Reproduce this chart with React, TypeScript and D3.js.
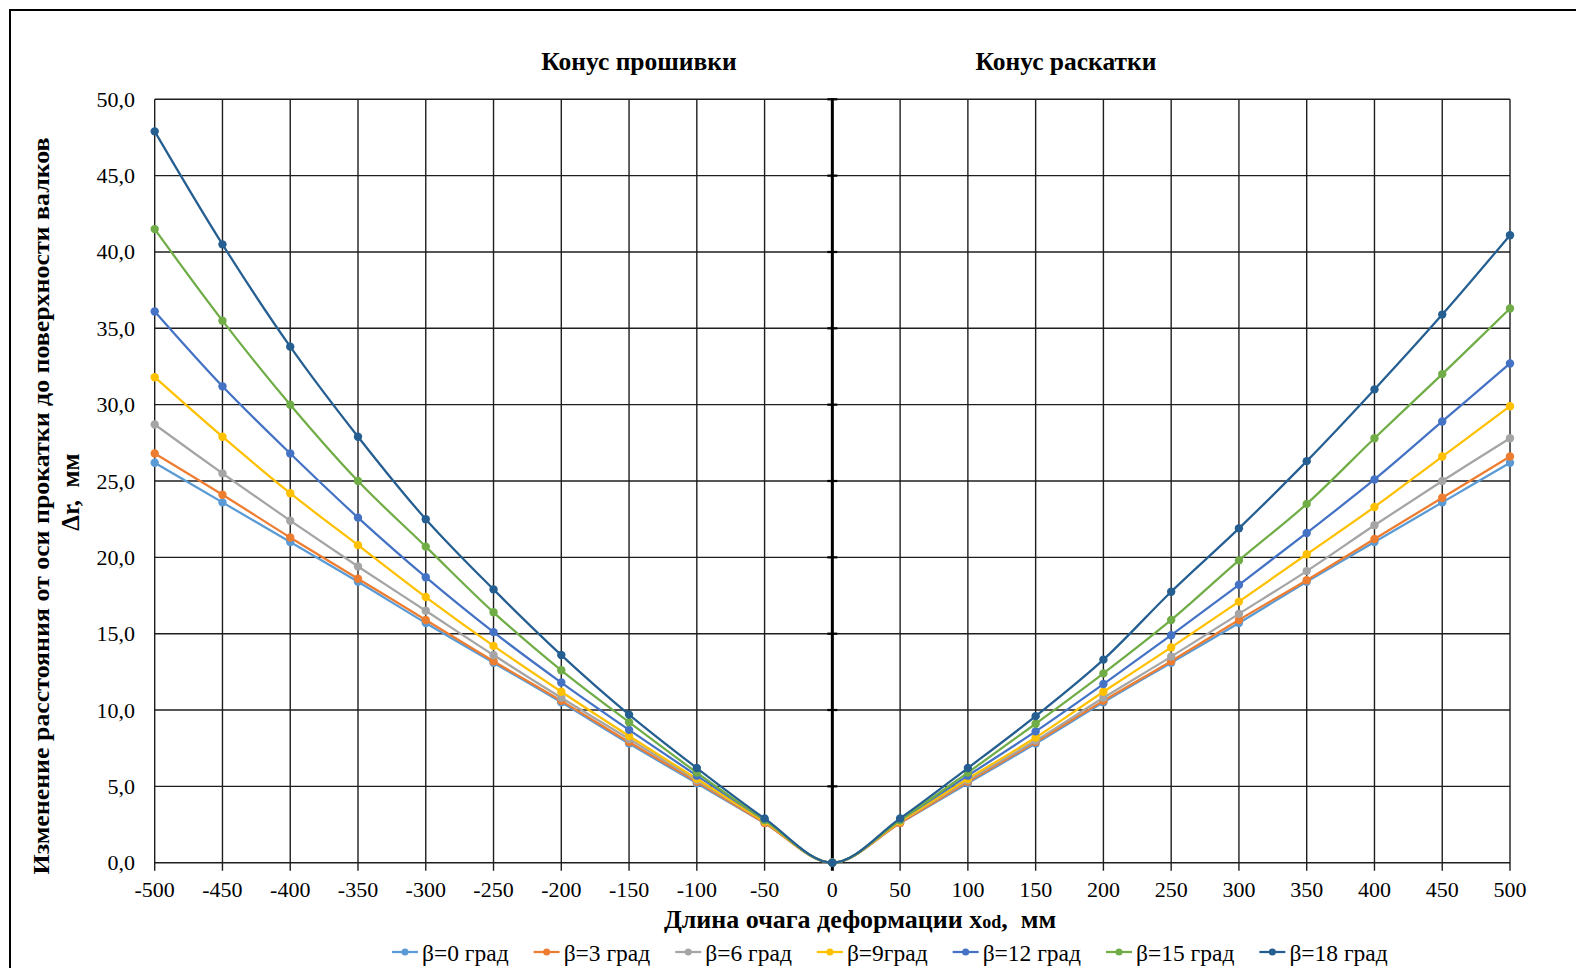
import React, { useEffect, useRef } from "react";
import * as d3 from "d3";

const WIDTH = 1576;
const HEIGHT = 968;

// x positions along the deformation zone, mm
const xValues = [-500, -450, -400, -350, -300, -250, -200, -150, -100, -50, 0, 50, 100, 150, 200, 250, 300, 350, 400, 450, 500];
const xTicks = [-500, -450, -400, -350, -300, -250, -200, -150, -100, -50, 0, 50, 100, 150, 200, 250, 300, 350, 400, 450, 500];
const yTicks = [0, 5, 10, 15, 20, 25, 30, 35, 40, 45, 50];

// Δr, mm for each roll feed angle β
const beta0 = [26.2, 23.6, 21.0, 18.4, 15.7, 13.1, 10.5, 7.8, 5.2, 2.6, 0, 2.6, 5.2, 7.8, 10.5, 13.1, 15.7, 18.4, 21.0, 23.6, 26.2];
const beta3 = [26.8, 24.1, 21.3, 18.6, 15.9, 13.2, 10.6, 7.9, 5.3, 2.6, 0, 2.6, 5.3, 7.9, 10.6, 13.2, 15.9, 18.5, 21.2, 23.9, 26.6];
const beta6 = [28.7, 25.5, 22.4, 19.4, 16.5, 13.6, 10.8, 8.1, 5.4, 2.7, 0, 2.7, 5.4, 8.0, 10.8, 13.5, 16.3, 19.1, 22.1, 25.0, 27.8];
const beta9 = [31.8, 27.9, 24.2, 20.8, 17.4, 14.2, 11.2, 8.3, 5.5, 2.7, 0, 2.7, 5.5, 8.2, 11.2, 14.1, 17.1, 20.2, 23.3, 26.6, 29.9];
const beta12 = [36.1, 31.2, 26.8, 22.6, 18.7, 15.1, 11.8, 8.7, 5.7, 2.8, 0, 2.8, 5.7, 8.6, 11.7, 14.9, 18.2, 21.6, 25.1, 28.9, 32.7];
const beta15 = [41.5, 35.5, 30.0, 25.0, 20.7, 16.4, 12.6, 9.2, 5.9, 2.8, 0, 2.8, 5.9, 9.1, 12.4, 15.9, 19.8, 23.5, 27.8, 32.0, 36.3];
const beta18 = [47.9, 40.5, 33.8, 27.9, 22.5, 17.9, 13.6, 9.7, 6.2, 2.9, 0, 2.9, 6.2, 9.6, 13.3, 17.75, 21.9, 26.3, 31.0, 35.9, 41.1];

const seriesNames = ["β=0 град", "β=3 град", "β=6 град", "β=9град", "β=12 град", "β=15 град", "β=18 град"];
const seriesColors = ["#5B9BD5", "#ED7D31", "#A5A5A5", "#FFC000", "#4472C4", "#70AD47", "#255E91"];
const seriesValues = [beta0, beta3, beta6, beta9, beta12, beta15, beta18];

const FONT = "'Liberation Serif', 'Times New Roman', serif";

export default function App() {
  const ref = useRef<SVGSVGElement | null>(null);

  useEffect(() => {
    const svg = d3.select(ref.current);
    svg.selectAll("*").remove();

    const left = 154.7;
    const right = 1510;
    const top = 99.3;
    const bottom = 862.7;

    const x = d3.scaleLinear().domain([-500, 500]).range([left, right]);
    const y = d3.scaleLinear().domain([0, 50]).range([bottom, top]);
    const fmt = (v: number) => d3.format(".1f")(v).replace(".", ",");

    // outer frame
    svg
      .append("rect")
      .attr("x", 10)
      .attr("y", 10)
      .attr("width", 1700)
      .attr("height", 1100)
      .attr("fill", "#fff")
      .attr("stroke", "#000")
      .attr("stroke-width", 2);

    const grid = svg.append("g").attr("stroke", "#1e1e1e").attr("stroke-width", 1.4);
    grid
      .selectAll("line.h")
      .data(yTicks)
      .join("line")
      .attr("class", "h")
      .attr("x1", left)
      .attr("x2", right)
      .attr("y1", (d) => y(d))
      .attr("y2", (d) => y(d));
    grid
      .selectAll("line.v")
      .data(xTicks.filter((d) => d !== 0))
      .join("line")
      .attr("class", "v")
      .attr("x1", (d) => x(d))
      .attr("x2", (d) => x(d))
      .attr("y1", top)
      .attr("y2", bottom + 8);

    // central axis at x = 0
    svg
      .append("line")
      .attr("x1", x(0))
      .attr("x2", x(0))
      .attr("y1", top - 1)
      .attr("y2", bottom + 8)
      .attr("stroke", "#000")
      .attr("stroke-width", 3);
    svg
      .append("g")
      .selectAll("line")
      .data(yTicks)
      .join("line")
      .attr("x1", x(0) - 5)
      .attr("x2", x(0) + 5)
      .attr("y1", (d) => y(d))
      .attr("y2", (d) => y(d))
      .attr("stroke", "#000")
      .attr("stroke-width", 2.2);

    // tick labels
    svg
      .append("g")
      .selectAll("text")
      .data(yTicks)
      .join("text")
      .attr("x", 135)
      .attr("y", (d) => y(d) + 7.5)
      .attr("text-anchor", "end")
      .attr("font-family", FONT)
      .attr("font-size", 22)
      .attr("fill", "#000")
      .text((d) => fmt(d));
    svg
      .append("g")
      .selectAll("text")
      .data(xTicks)
      .join("text")
      .attr("x", (d) => x(d))
      .attr("y", 897)
      .attr("text-anchor", "middle")
      .attr("font-family", FONT)
      .attr("font-size", 22)
      .attr("fill", "#000")
      .text((d) => String(d));

    // series
    const line = d3
      .line<number>()
      .x((_, i) => x(xValues[i]))
      .y((d) => y(d))
      .curve(d3.curveCatmullRom.alpha(0.5));

    seriesValues.forEach((vals, si) => {
      const g = svg.append("g");
      g.append("path")
        .attr("d", line(vals) ?? "")
        .attr("fill", "none")
        .attr("stroke", seriesColors[si])
        .attr("stroke-width", 2.25);
      g.selectAll("circle")
        .data(vals)
        .join("circle")
        .attr("cx", (_, i) => x(xValues[i]))
        .attr("cy", (d) => y(d))
        .attr("r", 4.2)
        .attr("fill", seriesColors[si]);
    });

    // section titles
    const titles = [
      { text: "Конус прошивки", cx: 639 },
      { text: "Конус раскатки", cx: 1066 },
    ];
    svg
      .append("g")
      .selectAll("text")
      .data(titles)
      .join("text")
      .attr("x", (d) => d.cx)
      .attr("y", 70)
      .attr("text-anchor", "middle")
      .attr("font-family", FONT)
      .attr("font-weight", "bold")
      .attr("font-size", 25.5)
      .text((d) => d.text);

    // y axis title (two lines)
    svg
      .append("text")
      .attr("transform", "translate(49,506) rotate(-90)")
      .attr("text-anchor", "middle")
      .attr("font-family", FONT)
      .attr("font-weight", "bold")
      .attr("font-size", 24)
      .attr("textLength", 737)
      .attr("lengthAdjust", "spacingAndGlyphs")
      .text("Изменение расстояния от оси прокатки до поверхности валков");
    svg
      .append("text")
      .attr("transform", "translate(79,492) rotate(-90)")
      .attr("text-anchor", "middle")
      .attr("font-family", FONT)
      .attr("font-weight", "bold")
      .attr("font-size", 25)
      .attr("xml:space", "preserve")
      .text("Δr,  мм");

    // x axis title
    const xt = svg
      .append("text")
      .attr("x", 860)
      .attr("y", 928)
      .attr("text-anchor", "middle")
      .attr("font-family", FONT)
      .attr("font-weight", "bold")
      .attr("font-size", 26)
      .attr("xml:space", "preserve");
    xt.append("tspan").text("Длина очага деформации x");
    xt.append("tspan").attr("font-size", 18).text("od");
    xt.append("tspan").text(",  мм");

    // legend
    const legend = svg.append("g");
    let lx = 392;
    const ly = 952;
    seriesNames.forEach((name, i) => {
      legend
        .append("line")
        .attr("x1", lx)
        .attr("x2", lx + 26)
        .attr("y1", ly)
        .attr("y2", ly)
        .attr("stroke", seriesColors[i])
        .attr("stroke-width", 2.25);
      legend
        .append("circle")
        .attr("cx", lx + 13)
        .attr("cy", ly)
        .attr("r", 3.5)
        .attr("fill", seriesColors[i]);
      const t = legend
        .append("text")
        .attr("x", lx + 30)
        .attr("y", ly + 8.5)
        .attr("font-family", FONT)
        .attr("font-size", 23.5)
        .attr("fill", "#000")
        .text(name);
      const w = (t.node() as SVGTextElement).getComputedTextLength();
      lx += 30 + w + 25;
    });
  }, []);

  return (
    <svg
      ref={ref}
      width={WIDTH}
      height={HEIGHT}
      style={{ position: "absolute", left: 0, top: 0, display: "block", background: "#fff" }}
    />
  );
}
